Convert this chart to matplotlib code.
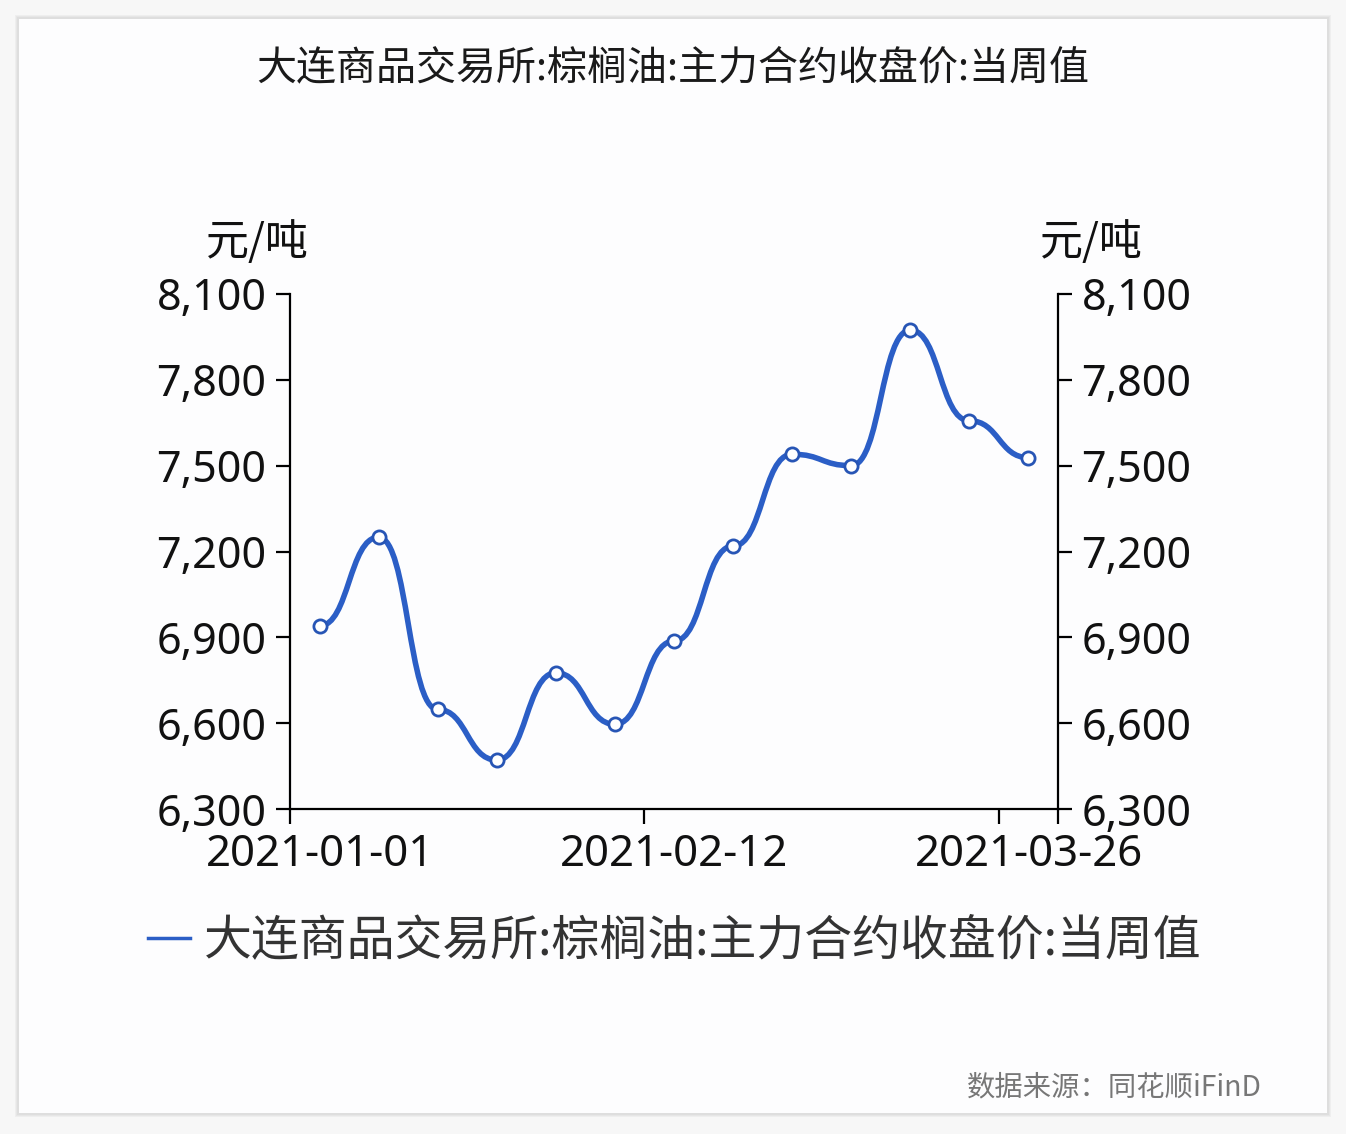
import numpy as np
import matplotlib
matplotlib.use("Agg")
import matplotlib.pyplot as plt
from matplotlib.path import Path
from matplotlib.patches import PathPatch, Rectangle
from matplotlib.lines import Line2D

# ---------------- data ----------------
dates = ["2021-01-01", "2021-01-08", "2021-01-15", "2021-01-22", "2021-01-29",
         "2021-02-05", "2021-02-12", "2021-02-19", "2021-02-26", "2021-03-05",
         "2021-03-12", "2021-03-19", "2021-03-26"]
prices = [6940, 7250, 6648, 6471, 6776, 6596, 6887, 7219, 7540, 7500, 7974, 7657, 7528]
label_idx = [0, 6, 12]
y_ticks = [6300, 6600, 6900, 7200, 7500, 7800, 8100]
title = "大连商品交易所:棕榈油:主力合约收盘价:当周值"
unit = "元/吨"
source = "数据来源：同花顺iFinD"

CJK = ["Noto Sans CJK SC", "DejaVu Sans"]
NUM = ["Noto Sans", "DejaVu Sans"]
BLUE = "#2b5ec6"

W, H = 1346, 1134
fig = plt.figure(figsize=(W / 100, H / 100), dpi=100)
fig.patch.set_facecolor("#f7f7f7")

def fx(px):
    return px / W

def fy(py):
    return 1 - py / H

# shadow + panel
for k, c in enumerate(["#eeeeee", "#e6e6e6", "#dedede"]):
    off = 4 - k
    fig.patches.append(Rectangle((fx(19 - off), fy(1113 + off)), fx(1308 + 2 * off), (1094 + 2 * off) / H,
                                 transform=fig.transFigure, facecolor=c, edgecolor="none", zorder=-3))
fig.patches.append(Rectangle((fx(19), fy(1113)), fx(1308), 1094 / H,
                             transform=fig.transFigure, facecolor="#fdfdfe", edgecolor="none", zorder=-2))

# axes
x0, x1, ytop, ybot = 290, 1058, 294, 809
ax = fig.add_axes([fx(x0), fy(ybot), fx(x1 - x0), (ybot - ytop) / H])
ax.set_facecolor("none")
ax.set_zorder(1)
n = len(prices)
ax.set_xlim(-0.5, n - 0.5)
ax.set_ylim(y_ticks[0], y_ticks[-1])

# smooth curve: cubic bezier per segment with horizontal handles
smooth = 0.5
xs = np.arange(n, dtype=float)
ys = np.array(prices, dtype=float)
verts = [(xs[0], ys[0])]
codes = [Path.MOVETO]
for i in range(n - 1):
    dx = xs[i + 1] - xs[i]
    verts += [(xs[i] + smooth * dx, ys[i]), (xs[i + 1] - smooth * dx, ys[i + 1]), (xs[i + 1], ys[i + 1])]
    codes += [Path.CURVE4] * 3
path = Path(verts, codes)
ax.add_patch(PathPatch(path, facecolor="none", edgecolor=BLUE, lw=4.0, capstyle="round", joinstyle="round", zorder=3))
ax.plot(xs, ys, linestyle="none", marker="o", markersize=9.5,
        markerfacecolor="white", markeredgecolor="#2755b5", markeredgewidth=2.0, zorder=4)

# spines
ax.spines["top"].set_visible(False)
for s in ["left", "right", "bottom"]:
    ax.spines[s].set_linewidth(1.6)
    ax.spines[s].set_color("black")

ax.set_yticks(y_ticks)
ax.set_yticklabels([f"{v:,}" for v in y_ticks], fontfamily=NUM, fontsize=31, color="#111111")
ax.tick_params(axis="y", which="major", length=10, width=1.6, pad=7, left=True, right=True,
               labelleft=True, labelright=True, direction="out")

ax.set_xticks(label_idx)
ax.set_xticklabels([dates[i] for i in label_idx], fontfamily=NUM, fontsize=31.5, color="#111111")
ax.set_xticks([-0.5, 5.5, 11.5, 12.5], minor=True)
ax.tick_params(axis="x", which="major", length=0, pad=17)
ax.tick_params(axis="x", which="minor", length=11, width=1.6, direction="out")
ax.tick_params(axis="y", which="minor", length=0)

# units
fig.text(fx(257), fy(243), unit, fontfamily=CJK, fontsize=31, color="#111111", ha="center", va="center")
fig.text(fx(1091), fy(243), unit, fontfamily=CJK, fontsize=31, color="#111111", ha="center", va="center")

# title
fig.text(fx(673), fy(68), title, fontfamily=CJK, fontsize=28.8, color="#1a1a1a", ha="center", va="center")

# legend
fig.lines.append(Line2D([fx(148), fx(190)], [fy(938), fy(938)], transform=fig.transFigure,
                        color=BLUE, lw=2.5))
fig.text(fx(204), fy(940), title, fontfamily=CJK, fontsize=34.5, color="#333333", ha="left", va="center")

# source
fig.text(fx(1262), fy(1087), source, fontfamily=CJK, fontsize=20.4, color="#777777", ha="right", va="center")

fig.savefig("out.png", dpi=100, facecolor=fig.get_facecolor())
